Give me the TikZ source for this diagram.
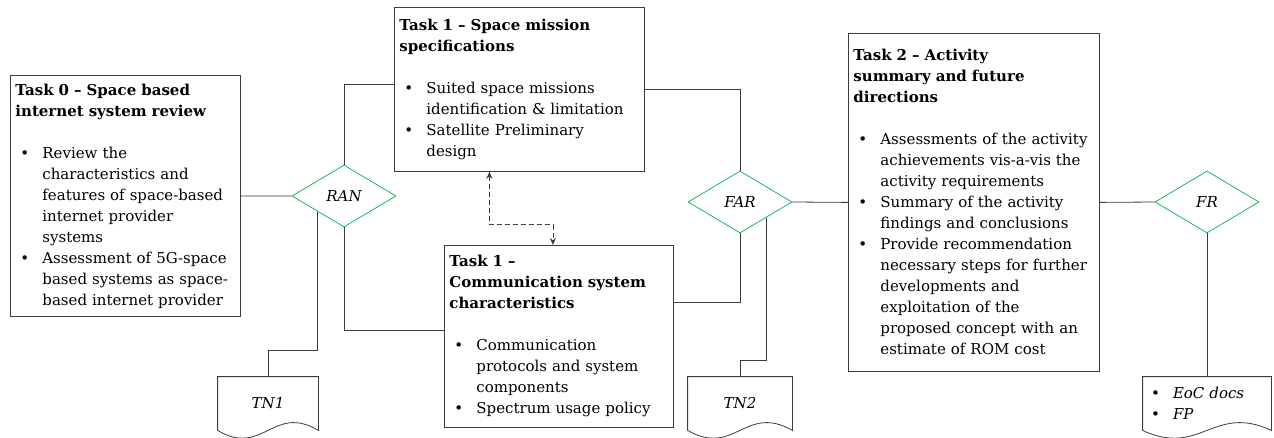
\documentclass[tikz,border=0pt]{standalone}
\usepackage{fontspec}
\setmainfont{DejaVu Serif}
\usepackage{tikz}
\usetikzlibrary{shapes.geometric,arrows.meta,calc}
\definecolor{rgreen}{RGB}{0,176,80}
\definecolor{lgray}{RGB}{60,60,60}

\newcommand{\bul}{\makebox[27pt][l]{\hspace{5pt}\textbullet}}
\newcommand{\ind}{\hspace*{27pt}}
\newcommand{\docpath}[1]{%
  \draw (#1.south west) -- (#1.north west) -- (#1.north east) -- (#1.south east)
    .. controls ($(#1.south east)!0.45!(#1.south west)+(0,-27)$)
    and ($(#1.south east)!0.55!(#1.south west)+(0,27)$) .. (#1.south west);}

\begin{document}
\begin{tikzpicture}[x=1pt, y=-1pt, >=Stealth, line width=0.8pt, draw=lgray,
    taskbox/.style={draw, anchor=north west, align=left, inner xsep=5pt, inner ysep=0pt,
      font=\fontsize{15}{21}\selectfont},
    review/.style={draw=rgreen, diamond, minimum width=104pt, minimum height=62pt,
      inner sep=0pt, line width=0.7pt, font=\fontsize{15}{21}\selectfont\itshape},
    docbox/.style={minimum height=53pt, inner sep=0pt, font=\fontsize{15}{21}\selectfont\itshape}]
  \useasboundingbox (0,0) rectangle (1274,438);

  % task boxes
  \node[taskbox, text width=220pt, minimum height=241pt] (t0) at (10,75)
    {\textbf{Task 0 -- Space based}\\ \textbf{internet system review}\\[21pt]
     \bul Review the\\ \ind characteristics and\\ \ind features of space-based\\
     \ind internet provider\\ \ind systems\\
     \bul Assessment of 5G-space\\ \ind based systems as space-\\ \ind based internet provider};
  \node[taskbox, text width=240pt, minimum height=164pt] (t1a) at (394,7)
    {\textbf{Task 1 -- Space mission}\\ \textbf{specifications}\\[21pt]
     \bul Suited space missions\\ \ind identification \& limitation\\
     \bul Satellite Preliminary\\ \ind design};
  \node[taskbox, text width=219pt, minimum height=182pt] (t1b) at (444,245)
    {\textbf{Task 1 --}\\ \textbf{Communication system}\\ \textbf{characteristics}\\[21pt]
     \bul Communication\\ \ind protocols and system\\ \ind components\\
     \bul Spectrum usage policy};
  \node[taskbox, text width=241pt, minimum height=338pt] (t2) at (848,33)
    {\textbf{Task 2 -- Activity}\\ \textbf{summary and future}\\ \textbf{directions}\\[21pt]
     \bul Assessments of the activity\\ \ind achievements vis-a-vis the\\ \ind activity requirements\\
     \bul Summary of the activity\\ \ind findings and conclusions\\
     \bul Provide recommendation\\ \ind necessary steps for further\\ \ind developments and\\
     \ind exploitation of the\\ \ind proposed concept with an\\ \ind estimate of ROM cost};

  % reviews
  \node[review] (ran) at (344,196) {RAN};
  \node[review] (far) at (740,202) {FAR};
  \node[review] (fr) at (1207,202) {FR};

  % deliverables
  \node[docbox, minimum width=100pt] (tn1) at (268,403.5) {TN1};
  \node[docbox, minimum width=104pt] (tn2) at (740,403.5) {TN2};
  \node[docbox, inner xsep=3pt, text width=122pt, align=left] (fp) at (1207,403.5)
    {\bul EoC docs\\ \bul FP};
  \docpath{tn1}
  \docpath{tn2}
  \docpath{fp}

  % links
  \draw (t0.east) -- (ran.west);
  \draw (ran.north) |- ([yshift=5pt]t1a.west);
  \draw (ran.south) |- ([yshift=6pt]t1b.west);
  \draw (ran.south west) |- ($(tn1.north)+(0,-26)$) -- (tn1.north);
  \draw (t1a.east) -| (far.north);
  \draw ([yshift=34pt]t1b.east) -| (far.south);
  \draw (far.east) -- (t2.west);
  \draw (far.south east) |- ($(tn2.north)+(0,-16)$) -- (tn2.north);
  \draw (t2.east) -- (fr.west);
  \draw (fr.south) -- (fp.north);
  \draw[dash pattern=on 5pt off 3pt, {Stealth[length=7pt,width=6pt]}-{Stealth[length=7pt,width=6pt]}]
    ([xshift=-30pt]t1a.south) -- ++(0,53) -| ([xshift=-6pt]t1b.north);
\end{tikzpicture}
\end{document}
